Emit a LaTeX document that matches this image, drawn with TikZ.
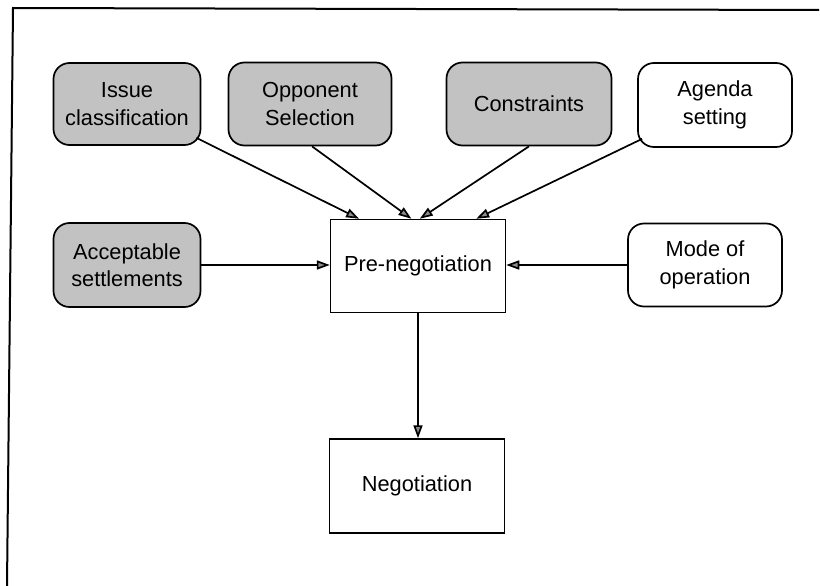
\documentclass[tikz,border=0pt]{standalone}
\usepackage{fontspec}
\setmainfont{Liberation Sans}
\usetikzlibrary{arrows.meta,calc}
\tikzset{
  box/.style={draw=black, line width=1.7pt, align=center, inner sep=0pt,
    font=\fontsize{21.8}{27.5}\selectfont},
  factor/.style={box, rounded corners=16pt, fill=black!24},
  openfactor/.style={box, rounded corners=16pt, fill=white},
  phase/.style={box, fill=white, line width=1.5pt},
  flow/.style={line width=1.7pt, -{Triangle[length=13pt,width=9pt,fill=black!45]}},
}
\begin{document}
\begin{tikzpicture}[x=1pt,y=-1pt]
\useasboundingbox (0,0) rectangle (820,586);
% page frame
\draw[line width=2pt] (7,586) -- (13,8) -- (819,10);

% influencing factors
\node[factor, minimum width=147pt, minimum height=82pt] (iss) at (127,104) {Issue\\classification};
\node[factor, minimum width=163pt, minimum height=83pt] (opp) at (310,104) {Opponent\\Selection};
\node[factor, minimum width=165pt, minimum height=83pt] (con) at (529,104) {Constraints};
\node[openfactor, minimum width=154pt, minimum height=84pt] (age) at (715,105) {Agenda\\setting};
\node[factor, minimum width=147pt, minimum height=84pt] (acc) at (127,265) {Acceptable\\settlements};
\node[openfactor, minimum width=154pt, minimum height=83pt] (mod) at (705,265) {Mode of\\operation};

% phases
\node[phase, minimum width=175pt, minimum height=93pt] (pre) at (418,266) {Pre-negotiation};
\node[phase, minimum width=175pt, minimum height=94pt] (neg) at (417,486) {Negotiation};

% connectors
\draw[flow] ($(iss.south east)+(-5,-8)$) -- ($(pre.north west)!0.166!(pre.north east)$);
\draw[flow] ($(opp.south)+(2,0)$) -- ($(pre.north west)!0.463!(pre.north east)$);
\draw[flow] (con.south) -- ($(pre.north west)!0.51!(pre.north east)$);
\draw[flow] ($(age.south west)+(5,-9)$) -- ($(pre.north west)!0.83!(pre.north east)$);
\draw[flow] (acc.east) -- (pre.west |- acc.east);
\draw[flow] (mod.west) -- (pre.east |- mod.west);
\draw[flow] (pre.south) -- (neg.north -| pre.south);
\end{tikzpicture}
\end{document}
